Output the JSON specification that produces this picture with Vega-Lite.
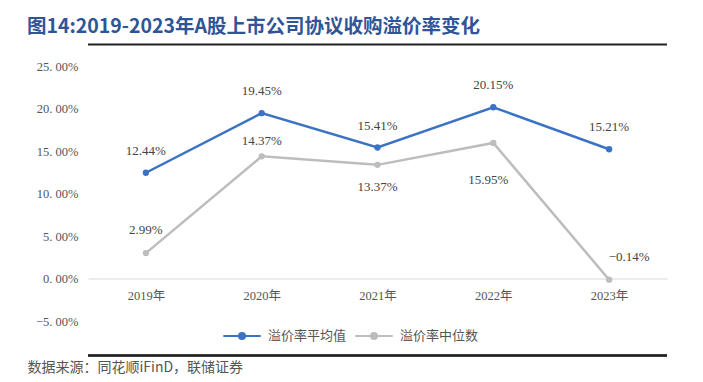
{
  "$schema": "https://vega.github.io/schema/vega-lite/v6.json",
  "width": 579,
  "height": 255,
  "autosize": {"type": "none"},
  "padding": {"left": 88, "top": 66, "right": 36, "bottom": 61},
  "background": "#ffffff",
  "title": {
    "text": "图14:2019-2023年A股上市公司协议收购溢价率变化",
    "anchor": "start",
    "frame": "group",
    "dx": -61,
    "offset": 6,
    "fontSize": 19.5,
    "fontWeight": "bold",
    "color": "#2f5597",
    "font": "Noto Sans CJK SC"
  },
  "config": {
    "view": {"stroke": null},
    "axis": {"grid": false, "ticks": false, "labelColor": "#555555", "labelFontSize": 12.5, "labelFont": "Liberation Serif, Noto Sans CJK SC"},
    "legend": {
      "orient": "none",
      "legendX": 134,
      "legendY": 250,
      "direction": "horizontal",
      "symbolType": "M-1,0H1M-0.16,0A0.16,0.16,0,1,1,0.16,0A0.16,0.16,0,1,1,-0.16,0",
      "symbolSize": 1400,
      "symbolStrokeWidth": 2,
      "labelFontSize": 13,
      "labelColor": "#555555",
      "labelFont": "Noto Sans CJK SC",
      "columnPadding": 4,
      "labelOffset": 6
    }
  },
  "datasets": {
    "rates": [
      {"year": "2019年", "series": "溢价率平均值", "value": 0.1244},
      {"year": "2020年", "series": "溢价率平均值", "value": 0.1945},
      {"year": "2021年", "series": "溢价率平均值", "value": 0.1541},
      {"year": "2022年", "series": "溢价率平均值", "value": 0.2015},
      {"year": "2023年", "series": "溢价率平均值", "value": 0.1521},
      {"year": "2019年", "series": "溢价率中位数", "value": 0.0299},
      {"year": "2020年", "series": "溢价率中位数", "value": 0.1437},
      {"year": "2021年", "series": "溢价率中位数", "value": 0.1337},
      {"year": "2022年", "series": "溢价率中位数", "value": 0.1595},
      {"year": "2023年", "series": "溢价率中位数", "value": -0.0014}
    ],
    "frameTop": [{"value": 0.2753}],
    "frameBottom": [{"value": -0.0905}, {"value": -0.0905}, {"value": -0.0905}]
  },
  "encoding": {
    "y": {
      "field": "value",
      "type": "quantitative",
      "scale": {"domain": [-0.05, 0.25], "nice": false, "zero": false},
      "axis": {
        "title": null,
        "domain": false,
        "values": [-0.05, 0, 0.05, 0.1, 0.15, 0.2, 0.25],
        "labelExpr": "replace(format(datum.value, '.2%'), '.', '. ')",
        "labelPadding": 10
      }
    }
  },
  "layer": [
    {
      "data": {"name": "frameTop"},
      "mark": {"type": "rule", "clip": false, "strokeWidth": 2, "stroke": "#222222"}
    },
    {
      "data": {"name": "frameBottom"},
      "mark": {"type": "rule", "clip": false, "strokeWidth": 2, "stroke": "#222222"}
    },
    {
      "data": {"name": "rates"},
      "encoding": {
        "x": {
          "field": "year",
          "type": "ordinal",
          "sort": null,
          "axis": {
            "labelAngle": 0,
            "offset": -42.5,
            "domainColor": "#d9d9d9",
            "domainWidth": 1.2,
            "labelPadding": 11,
            "title": "数据来源：同花顺iFinD，联储证券",
            "titleFont": "Noto Sans CJK SC",
            "titleFontSize": 14,
            "titleFontWeight": "normal",
            "titleColor": "#555555",
            "titleAlign": "left",
            "titleAnchor": null,
            "titleBaseline": "middle",
            "titleX": -61,
            "titleY": 89
          }
        }
      },
      "layer": [
        {
          "mark": {"type": "line", "strokeWidth": 2.5},
          "encoding": {
            "color": {
              "field": "series",
              "type": "nominal",
              "scale": {"domain": ["溢价率平均值", "溢价率中位数"], "range": ["#3a72c4", "#bdbdbd"]},
              "legend": {"title": null}
            }
          }
        },
        {
          "mark": {"type": "point", "filled": true, "size": 40, "opacity": 1},
          "encoding": {
            "color": {"field": "series", "type": "nominal", "legend": {"title": null}}
          }
        },
        {
          "transform": [{"filter": "datum.series == '溢价率平均值'"}],
          "mark": {"type": "text", "dy": -22, "font": "Liberation Serif", "fontSize": 13, "color": "#444444"},
          "encoding": {"text": {"field": "value", "format": ".2%"}}
        },
        {
          "transform": [{"filter": "datum.series == '溢价率中位数' && datum.year == '2019年'"}],
          "mark": {"type": "text", "dy": -23, "font": "Liberation Serif", "fontSize": 13, "color": "#444444"},
          "encoding": {"text": {"field": "value", "format": ".2%"}}
        },
        {
          "transform": [{"filter": "datum.series == '溢价率中位数' && datum.year == '2020年'"}],
          "mark": {"type": "text", "dy": -15, "font": "Liberation Serif", "fontSize": 13, "color": "#444444"},
          "encoding": {"text": {"field": "value", "format": ".2%"}}
        },
        {
          "transform": [{"filter": "datum.series == '溢价率中位数' && datum.year == '2021年'"}],
          "mark": {"type": "text", "dy": 22, "font": "Liberation Serif", "fontSize": 13, "color": "#444444"},
          "encoding": {"text": {"field": "value", "format": ".2%"}}
        },
        {
          "transform": [{"filter": "datum.series == '溢价率中位数' && datum.year == '2022年'"}],
          "mark": {"type": "text", "dy": 37, "dx": -5, "font": "Liberation Serif", "fontSize": 13, "color": "#444444"},
          "encoding": {"text": {"field": "value", "format": ".2%"}}
        },
        {
          "transform": [{"filter": "datum.series == '溢价率中位数' && datum.year == '2023年'"}],
          "mark": {"type": "text", "dy": -23, "dx": 20, "font": "Liberation Serif", "fontSize": 13, "color": "#444444"},
          "encoding": {"text": {"field": "value", "format": ".2%"}}
        }
      ]
    }
  ]
}
